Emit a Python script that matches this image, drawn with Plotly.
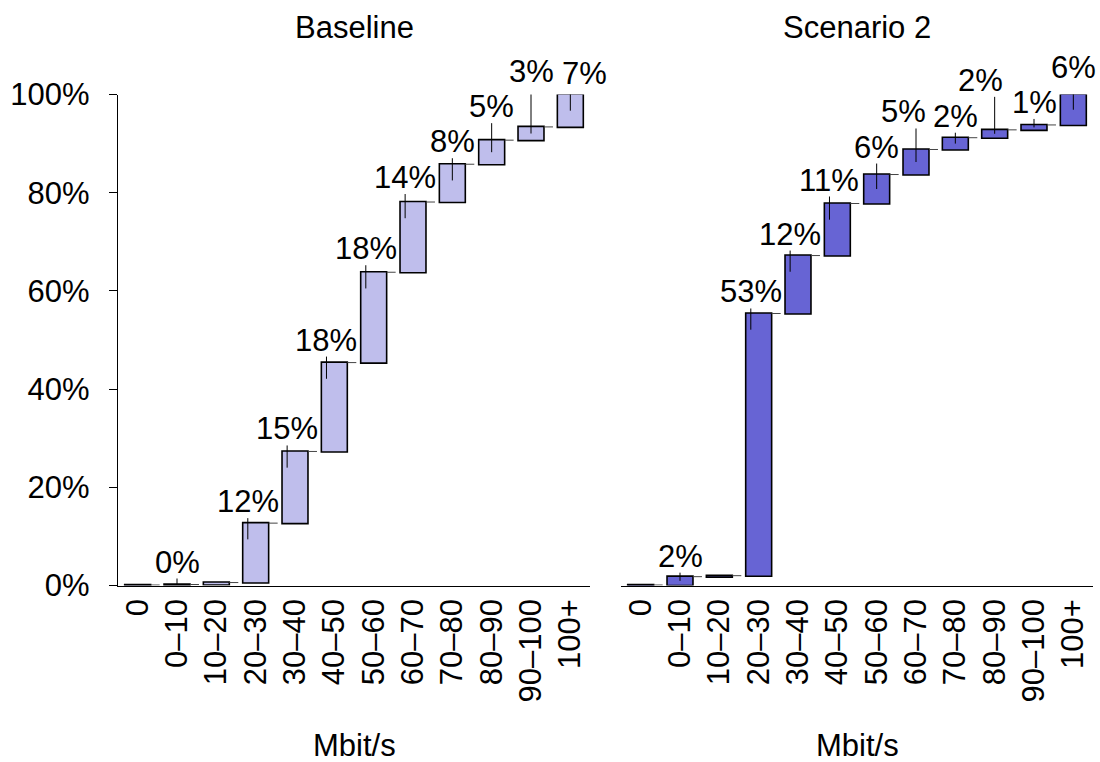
import plotly.graph_objects as go

# ---- data -------------------------------------------------------------
CATEGORIES = ["0", "0–10", "10–20", "20–30", "30–40", "40–50", "50–60",
              "60–70", "70–80", "80–90", "90–100", "100+"]
BASELINE_SHARE = [0.1, 0.1, 0.4, 12.1, 14.6, 18.1, 18.4, 14.3, 7.7, 4.9, 2.7, 6.6]
SCENARIO2_SHARE = [0.1, 1.7, 0.2, 53.4, 11.8, 10.6, 5.9, 5.1, 2.4, 1.6, 1.0, 6.2]
PANEL_TITLES = ["Baseline", "Scenario 2"]
X_TITLE = "Mbit/s"
Y_TICKS = [0, 20, 40, 60, 80, 100]
Y_TICK_LABELS = ["0%", "20%", "40%", "60%", "80%", "100%"]

# ---- layout / style ---------------------------------------------------
W, H = 1100, 762
FONT = "Liberation Sans, Arial, sans-serif"
FS = 31
BAR_COLORS = ["#BFBEEC", "#6764D4"]
PLOT_TOP_PX, PLOT_BOTTOM_PX = 94.5, 585.5
PANEL_PX = [(118, 590), (621, 1093)]
PX_PER_UNIT = (PLOT_BOTTOM_PX - PLOT_TOP_PX) / 100.0
BASELINE_TO_CENTER = 10.5   # text baseline to label box centre, px
BASELINE_TO_LINE = 6.0      # text baseline to top of leader line, px

# label placement (px): baseline height above bar top, horizontal text shift
LABEL_GAP = [
    [None, 12, None, 11, 12, 12, 13, 14, 12, 23, 45, 11],
    [None, 10, None, 11, 11, 13, 17, 27, 11, 39, 12, 17],
]
LABEL_DX = [
    [0, 0, 0, 0, 0, 0, 0, 0, 0, 0, 0, 14],
    [0, 0, 0, 0, 0, 0, 0, -13, 0, -14, 0, 0],
]

fig = go.Figure()
ydom = [1 - PLOT_BOTTOM_PX / H, 1 - PLOT_TOP_PX / H]

for p, (shares, color) in enumerate(zip([BASELINE_SHARE, SCENARIO2_SHARE], BAR_COLORS)):
    xa = "x" if p == 0 else "x2"
    ya = "y" if p == 0 else "y2"
    fig.add_trace(go.Waterfall(
        x=CATEGORIES, y=shares, measure=["relative"] * len(shares),
        xaxis=xa, yaxis=ya, width=0.66,
        increasing=dict(marker=dict(color=color, line=dict(color="black", width=1.6))),
        decreasing=dict(marker=dict(color=color, line=dict(color="black", width=1.6))),
        connector=dict(mode="between", line=dict(color="#444444", width=1, dash="dash")),
        textinfo="none", hoverinfo="skip", cliponaxis=False, showlegend=False,
    ))

    # value labels with vertical leader lines
    cum = 0.0
    for i, inc in enumerate(shares):
        cum += inc
        gap = LABEL_GAP[p][i]
        if gap is None:
            continue
        depth = min(inc / 2.0, 3.3)
        head_x = i - 0.2 if inc >= 10 else i
        fig.add_shape(
            type="line", xref=xa, yref=ya, x0=head_x, x1=head_x,
            ysizemode="pixel", yanchor=cum - depth,
            y0=0, y1=depth * PX_PER_UNIT + gap - BASELINE_TO_LINE,
            line=dict(color="black", width=1),
        )
        fig.add_annotation(
            x=head_x, y=cum, xref=xa, yref=ya, xshift=LABEL_DX[p][i],
            yshift=gap + BASELINE_TO_CENTER, yanchor="middle", xanchor="center",
            text=f"{round(inc)}%", showarrow=False,
            font=dict(family=FONT, size=FS, color="black"),
        )

    x0, x1 = PANEL_PX[p]
    xcen = (x0 + x1) / 2 / W
    fig.add_annotation(x=xcen, y=1 - 8 / H, xref="paper", yref="paper",
                       text=PANEL_TITLES[p], showarrow=False,
                       xanchor="center", yanchor="top",
                       font=dict(family=FONT, size=FS, color="black"))
    fig.add_annotation(x=xcen, y=1 - 726 / H, xref="paper", yref="paper",
                       text=X_TITLE, showarrow=False,
                       xanchor="center", yanchor="top",
                       font=dict(family=FONT, size=FS, color="black"))

axis_x = dict(type="category", range=[-0.5, 11.5], showgrid=False, zeroline=False,
              showline=True, linecolor="black", linewidth=1.3, ticks="",
              tickangle=-90, ticklabelstandoff=0, automargin=False,
              tickfont=dict(family=FONT, size=FS, color="black"))
fig.update_layout(
    width=W, height=H, margin=dict(l=0, r=0, t=0, b=0, autoexpand=False),
    paper_bgcolor="white", plot_bgcolor="white",
    xaxis=dict(axis_x, domain=[PANEL_PX[0][0] / W, PANEL_PX[0][1] / W], anchor="y"),
    xaxis2=dict(axis_x, domain=[PANEL_PX[1][0] / W, PANEL_PX[1][1] / W], anchor="y2"),
    yaxis=dict(domain=ydom, range=[0, 100], tickvals=Y_TICKS, ticktext=Y_TICK_LABELS,
               showgrid=False, zeroline=False, showline=True, linecolor="black",
               linewidth=1.3, ticks="outside", ticklen=8, tickwidth=1.3,
               tickcolor="black", ticklabelstandoff=13, automargin=False,
               tickfont=dict(family=FONT, size=FS, color="black"), anchor="x"),
    yaxis2=dict(domain=ydom, range=[0, 100], showgrid=False, zeroline=False,
                showline=False, showticklabels=False, ticks="", anchor="x2",
                automargin=False),
    showlegend=False,
)

fig.write_html("out.html")
